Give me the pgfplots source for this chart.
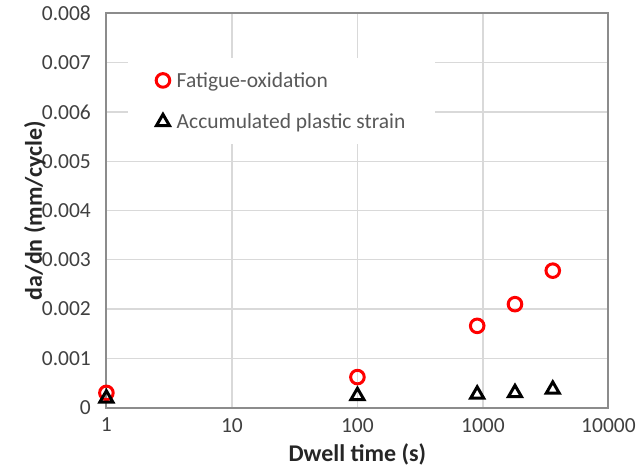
\documentclass[border=0pt]{standalone}
\usepackage{fontspec}
\setmainfont{Carlito}
\usepackage{pgfplots}
\pgfplotsset{compat=1.18}
\definecolor{framegrey}{HTML}{8C8C8C}
\definecolor{gridgrey}{HTML}{D9D9D9}
\definecolor{ticktext}{HTML}{404040}
\definecolor{legtext}{HTML}{595959}
\definecolor{fored}{HTML}{FF0000}

\begin{document}
\begin{tikzpicture}
\begin{axis}[
    scale only axis,
    width=502.5pt, height=394.5pt,
    xmode=log,
    xmin=1, xmax=10000,
    ymin=0, ymax=0.008,
    xtick={1,10,100,1000,10000},
    xticklabels={1,10,100,1000,10000},
    minor xtick={},
    ytick={0,0.001,0.002,0.003,0.004,0.005,0.006,0.007,0.008},
    yticklabels={0,0.001,0.002,0.003,0.004,0.005,0.006,0.007,0.008},
    scaled y ticks=false,
    grid=major,
    major grid style={gridgrey, line width=1.3pt},
    axis line style={framegrey, line width=2pt},
    tick style={draw=none},
    ticklabel style={font=\fontsize{21.5}{25}\selectfont, text=ticktext},
    xticklabel style={yshift=-7pt},
    yticklabel style={xshift=-12pt},
    xlabel={Dwell time (s)},
    ylabel={da/dn (mm/cycle)},
    label style={font=\fontsize{24}{28}\selectfont\bfseries, text=black!85},
    xlabel style={at={(axis description cs:0.5,-0.1191)}, anchor=center},
    ylabel style={at={(axis description cs:-0.1423,0.5)}, anchor=center},
    clip=false,
    legend cell align=left,
    legend style={at={(axis description cs:0.043,0.887)}, anchor=north west,
        draw=none, fill=white, font=\fontsize{21.5}{25}\selectfont, text=legtext,
        row sep=21pt, inner xsep=28pt, inner ysep=12pt,
        /tikz/every odd column/.append style={column sep=5pt}},
]
\addplot[only marks, mark=o, mark size=6.8pt, mark options={draw=fored, line width=3pt}]
coordinates {
    (1,0.00030)
    (100,0.00062)
    (900,0.00166)
    (1800,0.00210)
    (3600,0.00278)
};
\addlegendentry{Fatigue-oxidation}
\addplot[only marks, mark=triangle, mark size=7.5pt, mark options={draw=black, line width=3pt}]
coordinates {
    (1,0.00019)
    (100,0.00024)
    (900,0.00027)
    (1800,0.00030)
    (3600,0.00037)
};
\addlegendentry{Accumulated plastic strain}
\coordinate (sw) at (rel axis cs:0,0);
\end{axis}
\path (sw) ++(-106.5pt,-63pt) rectangle ++(639pt,471pt);
\end{tikzpicture}
\end{document}
